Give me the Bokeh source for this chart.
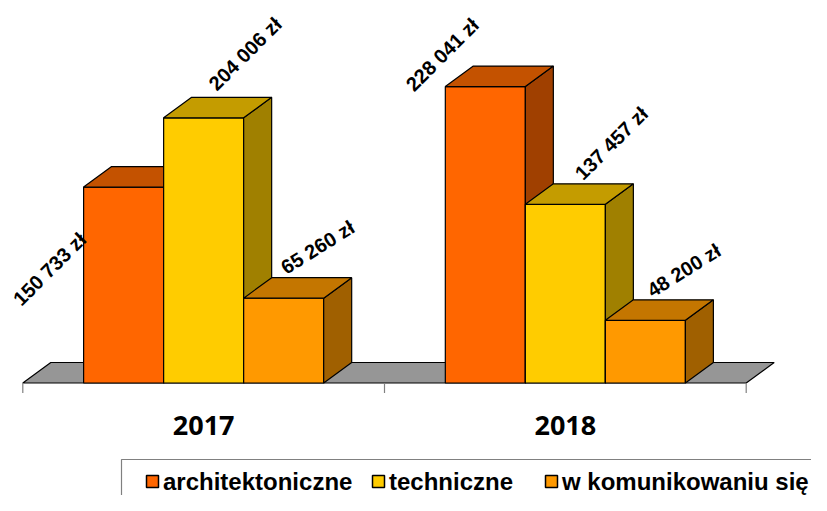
import math
from bokeh.plotting import figure
from bokeh.models import Range1d
from bokeh.core.properties import value
from bokeh.embed import file_html
from bokeh.resources import INLINE

# ---------------- data ----------------
categories = ["2017", "2018"]
series_names = ["architektoniczne", "techniczne", "w komunikowaniu się"]
architektoniczne = [150733, 228041]
techniczne = [204006, 137457]
komunikowanie = [65260, 48200]
series_values = [architektoniczne, techniczne, komunikowanie]

# ---------------- styles ----------------
FRONT = ["#FF6600", "#FFCC00", "#FF9900"]
TOP = ["#C45200", "#C49C00", "#C47600"]
SIDE = ["#A04000", "#A08000", "#A06000"]
LABEL_ANGLE = [45, 45, 32]           # degrees per series
# label centre offsets from bar top-centre, screen px (x right, y down)
LABEL_OFF = {(0, 0): (-74, 82), (1, 0): (41.5, -64), (2, 0): (34, -51),
             (0, 1): (-43, -32), (1, 1): (46, -61), (2, 1): (38.5, -50)}

W, H = 811, 495
X0 = 22.3          # px of category 0 left edge
GROUP_PX = 361.7   # px per category
BASE = 382.5       # px of value 0
PPV = 0.0013       # px per value unit
DEPTH_X, DEPTH_Y = 28, 20.5
GAP = 1.52         # total gap as fraction of bar width

def sxd(px):
    return (px - X0) / GROUP_PX

def syd(py):
    return (BASE - py) / PPV

n_series = len(series_values)
bar_w = 1.0 / (n_series + GAP)
gap_half = GAP * bar_w / 2
ddx = DEPTH_X / GROUP_PX
ddy = DEPTH_Y / PPV

p = figure(width=W, height=H, output_backend="svg", toolbar_location=None,
           x_range=Range1d(sxd(0), sxd(W)), y_range=Range1d(syd(H), syd(0)),
           x_axis_type=None, y_axis_type=None, min_border=0)
p.outline_line_color = None
p.background_fill_color = "white"

# floor
n_cat = len(categories)
p.patch([0, n_cat, n_cat + ddx, ddx], [0, 0, ddy, ddy],
        fill_color="#969696", line_color="black", line_width=1.2)

# ticks
p.segment(x0=list(range(n_cat + 1)), y0=[0] * (n_cat + 1),
          x1=list(range(n_cat + 1)), y1=[syd(BASE + 10)] * (n_cat + 1),
          line_color="#808080", line_width=1.2)

# bars (drawn left to right)
for j in range(n_cat):
    for i in range(n_series):
        v = series_values[i][j]
        left = j + gap_half + i * bar_w
        right = left + bar_w
        p.quad(left=[left], right=[right], bottom=[0], top=[v],
               fill_color=FRONT[i], line_color="black", line_width=1.2)
        p.patch([right, right + ddx, right + ddx, right], [0, ddy, v + ddy, v],
                fill_color=SIDE[i], line_color="black", line_width=1.2)
        p.patch([left, left + ddx, right + ddx, right], [v, v + ddy, v + ddy, v],
                fill_color=TOP[i], line_color="black", line_width=1.2)

# value labels
lx, ly, lt, la = [], [], [], []
for j in range(n_cat):
    for i in range(n_series):
        v = series_values[i][j]
        cx = j + gap_half + (i + 0.5) * bar_w
        dx, dy = LABEL_OFF[(i, j)]
        lx.append(cx + dx / GROUP_PX)
        ly.append(v - dy / PPV)
        lt.append(f"{v:,}".replace(",", " ") + " zł")
        la.append(math.radians(LABEL_ANGLE[i]))
p.text(x=lx, y=ly, text=lt, angle=la, text_align="center", text_baseline="middle",
       text_font=value("Liberation Sans"), text_font_style="bold",
       text_font_size="20px", text_color="black")

# category labels
p.text(x=[j + 0.5 for j in range(n_cat)], y=[syd(425)] * n_cat, text=categories,
       text_align="center", text_baseline="middle",
       text_font=value("Open Sans"), text_font_style="bold",
       text_font_size="27px", text_color="black")

# legend (box runs off the right and bottom edges, as in the original)
LEG_TOP = 459
LEG_MID = 481      # vertical centre of the legend row
p.quad(left=[sxd(121)], right=[sxd(900)], top=[syd(LEG_TOP)], bottom=[syd(600)],
       fill_color="white", line_color="#808080", line_width=1.2)
LEG_X = [146, 372, 545]
for i in range(n_series):
    L = LEG_X[i]
    p.quad(left=[sxd(L)], right=[sxd(L + 12)],
           top=[syd(LEG_MID - 6)], bottom=[syd(LEG_MID + 6)],
           fill_color=FRONT[i], line_color="black", line_width=1.5)
p.text(x=[sxd(L + 16.5) for L in LEG_X], y=[syd(LEG_MID)] * n_series, text=series_names,
       text_align="left", text_baseline="middle",
       text_font=value("Liberation Sans"), text_font_style="bold",
       text_font_size="24px", text_color="black")

open("out.html", "w").write(file_html(p, INLINE))
